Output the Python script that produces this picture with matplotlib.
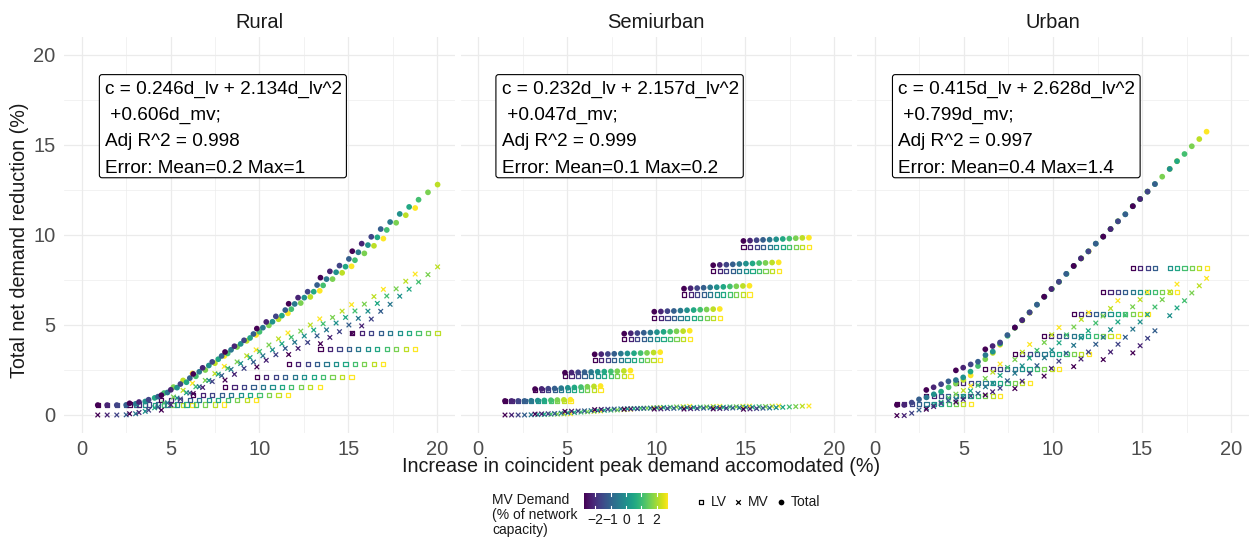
import numpy as np
import matplotlib
matplotlib.use("Agg")
import matplotlib.pyplot as plt
from matplotlib.colors import Normalize
from matplotlib.patches import FancyBboxPatch

plt.rcParams['font.family'] = ['Liberation Sans', 'DejaVu Sans']

# ---------------------------------------------------------------- data
# MV demand steps (% of network capacity), shared by all network types
mv_demand = [-2.75, -2.2, -1.65, -1.1, -0.55, 0.0, 0.55, 1.1, 1.65, 2.2, 2.75]

# Rural: accommodated-demand increase at the first MV step of each LV level,
# the extra increase per MV step, LV reduction per level and total reduction
rural_lv_start = [0.9, 2.69, 4.48, 6.27, 8.06, 9.85, 11.64, 13.43, 15.22]
rural_mv_offset = [0.0, 0.53, 1.07, 1.60, 2.13, 2.67, 3.20, 3.73, 4.26, 4.80, 5.33]
rural_lv = [0.55, 0.58, 0.83, 1.09, 1.56, 2.13, 2.82, 3.67, 4.57]
rural_total = [
    [0.55, 0.55, 0.55, 0.56, 0.62, 0.75, 0.95, 1.22, 1.55, 1.92, 2.31],
    [0.65, 0.72, 0.85, 1.02, 1.25, 1.52, 1.82, 2.15, 2.50, 2.88, 3.28],
    [1.10, 1.40, 1.72, 2.05, 2.40, 2.75, 3.10, 3.42, 3.78, 4.12, 4.45],
    [2.28, 2.62, 2.95, 3.28, 3.62, 3.95, 4.28, 4.62, 4.98, 5.32, 5.65],
    [3.50, 3.82, 4.15, 4.50, 4.85, 5.18, 5.52, 5.88, 6.22, 6.56, 6.90],
    [4.80, 5.17, 5.48, 5.83, 6.17, 6.52, 6.85, 7.20, 7.55, 7.90, 8.26],
    [6.18, 6.52, 6.85, 7.22, 7.55, 7.93, 8.24, 8.60, 8.98, 9.40, 9.80],
    [7.63, 7.98, 8.30, 8.67, 9.04, 9.44, 9.87, 10.28, 10.68, 11.10, 11.50],
    [9.10, 9.52, 9.90, 10.33, 10.72, 11.17, 11.56, 11.96, 12.37, 12.80, np.nan],
]

# Semiurban
semi_lv_start = [1.5, 3.19, 4.87, 6.54, 8.2, 9.89, 11.56, 13.2, 14.9]
semi_mv_offset = [0.0, 0.37, 0.74, 1.10, 1.47, 1.84, 2.21, 2.58, 2.94, 3.31, 3.68]
semi_lv = [0.78, 1.39, 2.15, 3.07, 4.20, 5.41, 6.69, 7.98, 9.35]
semi_total = [
    [0.78, 0.78, 0.78, 0.78, 0.79, 0.80, 0.81, 0.82, 0.83, 0.84, 0.85],
    [1.44, 1.45, 1.46, 1.47, 1.49, 1.51, 1.53, 1.55, 1.57, 1.59, 1.61],
    [2.35, 2.36, 2.37, 2.38, 2.39, 2.40, 2.41, 2.42, 2.43, 2.45, 2.47],
    [3.37, 3.38, 3.39, 3.40, 3.41, 3.42, 3.43, 3.44, 3.45, 3.47, 3.49],
    [4.52, 4.54, 4.55, 4.57, 4.58, 4.60, 4.62, 4.63, 4.65, 4.66, 4.68],
    [5.74, 5.75, 5.77, 5.78, 5.80, 5.82, 5.83, 5.85, 5.86, 5.88, 5.89],
    [7.02, 7.04, 7.05, 7.07, 7.09, 7.10, 7.12, 7.14, 7.15, 7.17, 7.18],
    [8.32, 8.34, 8.35, 8.37, 8.39, 8.41, 8.42, 8.44, 8.45, 8.47, 8.48],
    [9.67, 9.69, 9.71, 9.73, 9.74, 9.76, 9.78, 9.80, 9.82, 9.84, 9.85],
]

# Urban
urban_lv_start = [1.24, 2.89, 4.55, 6.2, 7.86, 9.5, 11.16, 12.82, 14.48]
urban_mv_offset = [0.0, 0.41, 0.83, 1.24, 1.66, 2.07, 2.48, 2.90, 3.31, 3.73, 4.14]
urban_lv = [0.59, 1.07, 1.76, 2.54, 3.39, 4.41, 5.59, 6.83, 8.15]
urban_total = [
    [0.56, 0.56, 0.69, 0.87, 0.98, 1.15, 1.30, 1.54, 1.75, 1.95, 2.20],
    [1.39, 1.54, 1.71, 1.87, 1.94, 2.09, 2.41, 2.72, 3.10, 3.45, 3.90],
    [2.48, 2.63, 2.81, 2.96, 3.33, 3.52, 3.96, 4.40, 4.84, 5.25, 5.68],
    [3.65, 3.83, 4.03, 4.44, 4.86, 5.27, 5.70, 6.13, 6.57, 7.00, 7.40],
    [4.86, 5.27, 5.70, 6.13, 6.57, 7.00, 7.40, 7.84, 8.28, 8.70, 9.09],
    [6.57, 7.00, 7.40, 7.84, 8.28, 8.70, 9.09, 9.52, 9.91, 10.33, 10.76],
    [8.28, 8.70, 9.09, 9.52, 9.91, 10.33, 10.76, 11.15, 11.60, 12.00, 12.41],
    [9.91, 10.33, 10.76, 11.15, 11.60, 12.00, 12.41, 12.83, 13.24, 13.67, 14.10],
    [11.60, 12.00, 12.41, 12.83, np.nan, 13.67, 14.10, 14.50, 14.93, 15.33, 15.74],
]

panel_names = ["Rural", "Semiurban", "Urban"]
fit_labels = [
    "c = 0.246d_lv + 2.134d_lv^2\n +0.606d_mv;\nAdj R^2 = 0.998\nError: Mean=0.2 Max=1",
    "c = 0.232d_lv + 2.157d_lv^2\n +0.047d_mv;\nAdj R^2 = 0.999\nError: Mean=0.1 Max=0.2",
    "c = 0.415d_lv + 2.628d_lv^2\n +0.799d_mv;\nAdj R^2 = 0.997\nError: Mean=0.4 Max=1.4",
]
axis_ticks = [0, 5, 10, 15, 20]
colorbar_ticks = [-2, -1, 0, 1, 2]

panels = [
    (rural_lv_start, rural_mv_offset, rural_lv, rural_total),
    (semi_lv_start, semi_mv_offset, semi_lv, semi_total),
    (urban_lv_start, urban_mv_offset, urban_lv, urban_total),
]

# ---------------------------------------------------------------- layout
W, H = 1252, 540
fig = plt.figure(figsize=(W / 100, H / 100), dpi=100)


def px_axes(x0, y0, x1, y1):
    return fig.add_axes([x0 / W, 1 - y1 / H, (x1 - x0) / W, (y1 - y0) / H])


GRID = "#EBEBEB"
TICK_COL = "#4D4D4D"
TEXT_COL = "#1A1A1A"
cmap = plt.get_cmap("viridis")
norm = Normalize(vmin=min(mv_demand), vmax=max(mv_demand))

panel_px = [(64, 37, 455, 433), (460.5, 37, 852, 433), (857, 37, 1249, 433)]

S_DOT, S_SQ, S_X = 17, 9, 11

for p, (name, label, (starts, offsets, lv, total)) in enumerate(
        zip(panel_names, fit_labels, panels)):
    ax = px_axes(*panel_px[p])
    ax.set_xlim(-1, 21)
    ax.set_ylim(-1, 21)
    ax.set_facecolor("white")
    for s in ax.spines.values():
        s.set_visible(False)
    ax.set_xticks(axis_ticks)
    ax.set_yticks(axis_ticks)
    ax.set_xticks([2.5, 7.5, 12.5, 17.5], minor=True)
    ax.set_yticks([2.5, 7.5, 12.5, 17.5], minor=True)
    ax.grid(True, which="major", color=GRID, lw=0.9)
    ax.grid(True, which="minor", color=GRID, lw=0.45)
    ax.set_axisbelow(True)
    ax.tick_params(which="both", length=0)
    ax.tick_params(axis="x", labelsize=14.5, colors=TICK_COL, pad=5)
    ax.tick_params(axis="y", labelsize=14.5, colors=TICK_COL, pad=6)
    if p > 0:
        ax.tick_params(axis="y", labelleft=False)

    starts_a = np.asarray(starts)[:, None]
    x = starts_a + np.asarray(offsets)[None, :]
    tot = np.asarray(total, dtype=float)
    lv_a = np.repeat(np.asarray(lv)[:, None], len(offsets), axis=1)
    lv_a = np.where(np.isnan(tot), np.nan, lv_a)
    mv_a = tot - lv_a
    col = np.tile(np.asarray(mv_demand), (len(starts), 1))

    xf, cf = x.ravel(), col.ravel()
    ax.scatter(xf, lv_a.ravel(), s=S_SQ, marker="s", facecolors="none",
               edgecolors=cmap(norm(cf)), linewidths=0.9, zorder=3)
    ax.scatter(xf, mv_a.ravel(), s=S_X, marker="x", c=cf, cmap=cmap,
               norm=norm, linewidths=0.9, zorder=4)
    ax.scatter(xf, tot.ravel(), s=S_DOT, marker="o", c=cf, cmap=cmap,
               norm=norm, linewidths=0, zorder=5)

    # regression summary label
    box = FancyBboxPatch((0.99, 13.18), 13.9, 5.73,
                         boxstyle="round,pad=0,rounding_size=0.15",
                         fc="white", ec="black", lw=0.8, zorder=6)
    ax.add_patch(box)
    ax.text(1.32, 18.56, label, ha="left", va="top", fontsize=13.7,
            color="black", linespacing=1.7, zorder=7)

    cx = (panel_px[p][0] + panel_px[p][2]) / 2
    fig.text(cx / W, 1 - 22 / H, name, ha="center", va="center",
             fontsize=14.5, color=TEXT_COL)

fig.text(641 / W, 1 - 466 / H, "Increase in coincident peak demand accomodated (%)",
         ha="center", va="center", fontsize=14.2, color=TEXT_COL)
fig.text(20 / W, 1 - 240 / H, "Total net demand reduction (%)",
         ha="center", va="center", rotation=90, fontsize=14.2, color=TEXT_COL)

# ---------------------------------------------------------------- legends
fig.text(492 / W, 1 - 515 / H, "MV Demand\n(% of network\ncapacity)",
         ha="left", va="center", fontsize=10, color=TEXT_COL, linespacing=1.12)

cb = px_axes(584, 493, 668, 509)
grad = np.linspace(min(mv_demand), max(mv_demand), 256)[None, :]
cb.imshow(grad, aspect="auto", cmap=cmap, norm=norm,
          extent=[min(mv_demand), max(mv_demand), 0, 1])
cb.set_xlim(min(mv_demand), max(mv_demand))
cb.set_ylim(0, 1)
for v in colorbar_ticks:
    cb.plot([v, v], [0, 0.2], color="white", lw=0.8)
    cb.plot([v, v], [0.8, 1], color="white", lw=0.8)
for s in cb.spines.values():
    s.set_visible(False)
cb.set_yticks([])
cb.set_xticks(colorbar_ticks)
cb.set_xticklabels(["\u22122", "\u22121", "0", "1", "2"])
cb.tick_params(axis="x", length=0, pad=3, labelsize=10, colors=TEXT_COL)

lg = px_axes(690, 490, 840, 514)
lg.set_xlim(690, 840)
lg.set_ylim(514, 490)
lg.axis("off")
lg.scatter([701], [502], s=S_SQ, marker="s", facecolors="none",
           edgecolors="black", linewidths=0.9)
lg.text(711, 502, "LV", ha="left", va="center", fontsize=10, color=TEXT_COL)
lg.scatter([738], [502], s=S_X, marker="x", c="black", linewidths=0.9)
lg.text(748, 502, "MV", ha="left", va="center", fontsize=10, color=TEXT_COL)
lg.scatter([781], [502], s=S_DOT, marker="o", c="black", linewidths=0)
lg.text(791, 502, "Total", ha="left", va="center", fontsize=10, color=TEXT_COL)

fig.savefig("out.png", dpi=100, facecolor="white")
